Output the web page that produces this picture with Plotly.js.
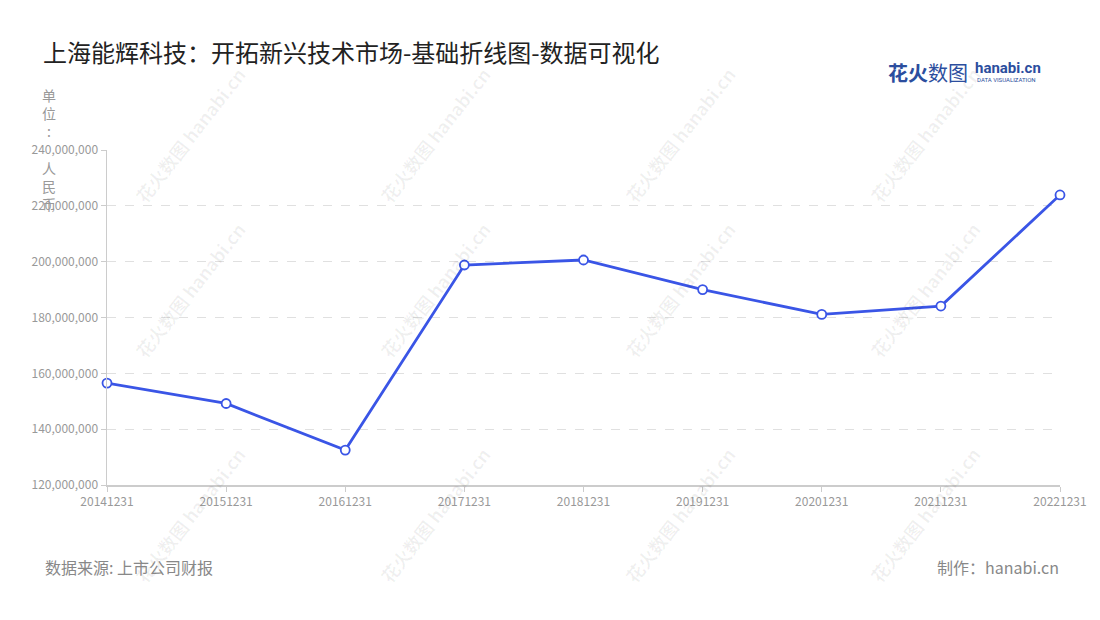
<!DOCTYPE html>
<html>
<head>
<meta charset="utf-8">
<script src="https://cdn.plot.ly/plotly-3.0.1.min.js"></script>
<style>html,body{margin:0;padding:0;background:#fff;}#chart{width:1100px;height:620px;}</style>
</head>
<body>
<div id="chart"></div>
<script>
const categories = ["20141231","20151231","20161231","20171231","20181231","20191231","20201231","20211231","20221231"];
const values = [156500000, 149200000, 132500000, 198800000, 200600000, 190000000, 181100000, 184100000, 223900000];
const yTicks = [120000000, 140000000, 160000000, 180000000, 200000000, 220000000, 240000000];

const FONT = '"Noto Sans CJK SC", "Noto Sans", sans-serif';
const wmCols = [0.087, 0.344, 0.601, 0.858];
const wmRows = [1.045, 0.582, -0.09];
const watermarks = [];
wmCols.forEach(cx => wmRows.forEach(cy => {
  watermarks.push({
    xref: 'paper', yref: 'paper', x: cx, y: cy, xanchor: 'center', yanchor: 'middle',
    text: '<b>花火数图</b> <b>hanabi.cn</b>', showarrow: false, textangle: -52,
    font: {family: FONT, size: 18, color: 'rgba(0,0,0,0.06)'}
  });
}));

const trace = {
  x: categories, y: values, type: 'scatter', mode: 'lines+markers',
  line: {color: '#3a55e6', width: 2.8},
  marker: {size: 9, color: '#ffffff', line: {color: '#3a55e6', width: 1.8}},
  cliponaxis: false, hoverinfo: 'x+y'
};

const layout = {
  width: 1100, height: 620,
  paper_bgcolor: '#ffffff', plot_bgcolor: '#ffffff',
  margin: {l: 107, r: 40, t: 150, b: 135},
  showlegend: false,
  font: {family: FONT, color: '#999'},
  title: {text: '上海能辉科技：开拓新兴技术市场-基础折线图-数据可视化', x: 0.039, xanchor: 'left', y: 0.913, yanchor: 'middle',
    font: {family: FONT, size: 24, color: '#222'}},
  xaxis: {
    type: 'category', range: [0, 8], showgrid: false, zeroline: false,
    showline: true, linecolor: '#cccccc', linewidth: 1.5,
    ticks: 'outside', ticklen: 5, tickcolor: '#cccccc',
    tickfont: {family: FONT, size: 12, color: '#999'}
  },
  yaxis: {
    range: [120000000, 240000000], tickvals: yTicks, tickformat: ',d',
    showgrid: true, gridcolor: '#e0e0e0', griddash: 'dash', gridwidth: 1,
    zeroline: false, showline: true, linecolor: '#cccccc', linewidth: 1.5,
    ticks: 'outside', ticklen: 5, tickcolor: '#cccccc',
    tickfont: {family: FONT, size: 12, color: '#999'}
  },
  annotations: watermarks.concat([
    {xref: 'paper', yref: 'paper', x: -0.061, y: 1.2, xanchor: 'center', yanchor: 'top', showarrow: false,
     align: 'center', text: '单<br>位<br>:<br> <br>人<br>民<br>币',
     font: {family: FONT, size: 14, color: '#999'}},
    {xref: 'paper', yref: 'paper', x: 0.9056, y: 1.23, xanchor: 'right', yanchor: 'middle', showarrow: false,
     text: '<b>花火</b>数图', font: {family: FONT, size: 20, color: '#2c4e9e'}},
    {xref: 'paper', yref: 'paper', x: 0.909, y: 1.245, xanchor: 'left', yanchor: 'middle', showarrow: false,
     text: '<b>hanabi.cn</b>', font: {family: 'Roboto, sans-serif', size: 15, color: '#2c4e9e'}},
    {xref: 'paper', yref: 'paper', x: 0.911, y: 1.21, xanchor: 'left', yanchor: 'middle', showarrow: false,
     text: 'DATA VISUALIZATION', font: {family: 'Roboto, sans-serif', size: 6, color: '#2c4e9e'}},
    {xref: 'paper', yref: 'paper', x: -0.067, y: -0.245, xanchor: 'left', yanchor: 'middle', showarrow: false,
     text: '数据来源: 上市公司财报', font: {family: FONT, size: 16, color: '#888'}},
    {xref: 'paper', yref: 'paper', x: 1.001, y: -0.245, xanchor: 'right', yanchor: 'middle', showarrow: false,
     text: '制作：hanabi.cn', font: {family: FONT, size: 16, color: '#888'}}
  ])
};

Plotly.newPlot('chart', [trace], layout, {displayModeBar: false, staticPlot: true});
</script>
</body>
</html>
